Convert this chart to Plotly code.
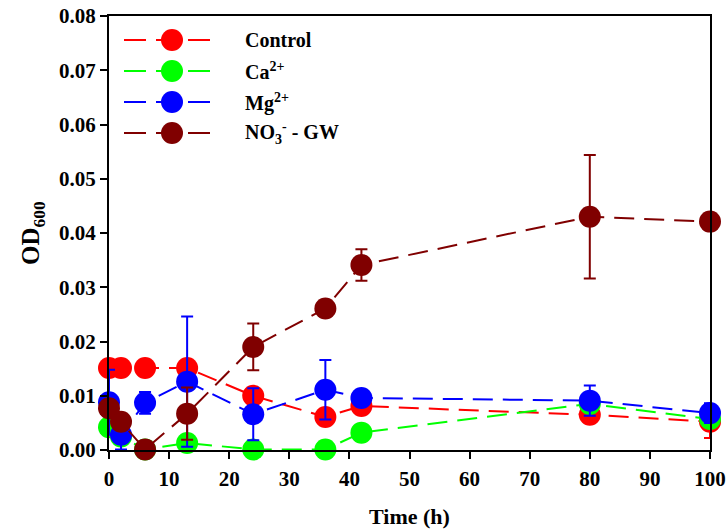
import plotly.graph_objects as go

# ---- data ----
time_h = [0, 2, 6, 13, 24, 36, 42, 80, 100]

control = [0.0151, 0.0151, 0.0151, 0.0151, 0.0100, 0.0061, 0.0081, 0.0065, 0.0052]
control_err = [0, 0, 0, 0, 0, 0, 0, 0, 0.0030]

ca = [0.0042, 0.0025, 0.0001, 0.0013, 0.0001, 0.0001, 0.0032, 0.0085, 0.0057]
ca_err = [0, 0, 0, 0, 0, 0, 0, 0, 0]

mg = [0.0088, 0.0028, 0.0087, 0.0126, 0.0066, 0.0111, 0.0096, 0.0091, 0.0068]
mg_err = [0.0060, 0.0027, 0.0020, 0.0120, 0.0048, 0.0055, 0, 0.0028, 0.0018]

no3 = [0.0077, 0.0052, 0.0001, 0.0067, 0.0190, 0.0261, 0.0341, 0.0430, 0.0421]
no3_err = [0, 0, 0, 0.0048, 0.0043, 0, 0.0029, 0.0114, 0]

names = ["Control", "Ca<sup>2+</sup>", "Mg<sup>2+</sup>", "NO<sub>3</sub><sup>-</sup> - GW"]
colors = ["#FF0000", "#00FF00", "#0000FF", "#800000"]
series = [control, ca, mg, no3]
errors = [control_err, ca_err, mg_err, no3_err]

x_ticks = [0, 10, 20, 30, 40, 50, 60, 70, 80, 90, 100]
y_ticks = [0.00, 0.01, 0.02, 0.03, 0.04, 0.05, 0.06, 0.07, 0.08]

# ---- style ----
FONT = "Liberation Serif"
W, H = 726, 532
ML, MR, MT, MB = 109, 16, 16, 82
PW, PH = W - ML - MR, H - MT - MB
DASH = "20px,10px"
MS = 22

fig = go.Figure()
for name, col, ys, err in zip(names, colors, series, errors):
    fig.add_trace(go.Scatter(
        x=time_h, y=ys, name=name, mode="lines+markers",
        line=dict(color=col, width=2, dash=DASH),
        marker=dict(color=col, size=MS, line=dict(width=0)),
        error_y=dict(type="data", array=err, visible=True, color=col,
                     thickness=2, width=6),
        cliponaxis=False, showlegend=False,
    ))

# ---- custom legend (drawn in pixel positions) ----
def px2paper(px, py):
    return (px - ML) / PW, (MT + PH - py) / PH

leg_x0, leg_x1, leg_mx, leg_tx = 124, 210, 172, 243
leg_y0, leg_dy = 40, 31
shapes = []
annotations = []
for i, (name, col) in enumerate(zip(names, colors)):
    py = leg_y0 + leg_dy * i
    ax0, ay = px2paper(leg_x0, py)
    ax1, _ = px2paper(leg_x1, py)
    shapes.append(dict(type="line", xref="paper", yref="paper",
                       x0=ax0, x1=ax1, y0=ay, y1=ay,
                       line=dict(color=col, width=2, dash="22px,10px")))
    mx, my = px2paper(leg_mx, py)
    shapes.append(dict(type="circle", xref="paper", yref="paper",
                       xsizemode="pixel", ysizemode="pixel",
                       xanchor=mx, yanchor=my,
                       x0=-MS / 2, x1=MS / 2, y0=-MS / 2, y1=MS / 2,
                       fillcolor=col, line=dict(width=0)))
    tx, ty = px2paper(leg_tx, py)
    annotations.append(dict(text=name, x=tx, y=ty, xref="paper", yref="paper",
                            xanchor="left", yanchor="middle", showarrow=False,
                            font=dict(family=FONT, size=20, color="black", weight="bold")))

fig.update_layout(
    width=W, height=H,
    margin=dict(l=ML, r=MR, t=MT, b=MB, pad=0, autoexpand=False),
    paper_bgcolor="white", plot_bgcolor="white",
    font=dict(family=FONT, size=21, color="black", weight="bold"),
    shapes=shapes, annotations=annotations,
    showlegend=False,
)
fig.update_xaxes(
    range=[0, 100], tickvals=x_ticks, ticktext=[str(v) for v in x_ticks],
    showline=True, linecolor="black", linewidth=2, mirror=True,
    ticks="outside", ticklen=7, tickwidth=2, tickcolor="black",
    ticklabelstandoff=2,
    tickfont=dict(family=FONT, size=21, weight="bold"),
    showgrid=False, zeroline=False, automargin=False,
    title=dict(text="Time (h)", font=dict(family=FONT, size=22, weight="bold"), standoff=18),
)
fig.update_yaxes(
    range=[0, 0.08], tickvals=y_ticks, ticktext=[f"{v:.2f}" for v in y_ticks],
    showline=True, linecolor="black", linewidth=2, mirror=True,
    ticks="outside", ticklen=7, tickwidth=2, tickcolor="black",
    tickfont=dict(family=FONT, size=21, weight="bold"),
    showgrid=False, zeroline=False, automargin=False,
    title=dict(text="OD<sub>600</sub>", font=dict(family=FONT, size=25, weight="bold"), standoff=12),
)

fig.write_html("out.html")
